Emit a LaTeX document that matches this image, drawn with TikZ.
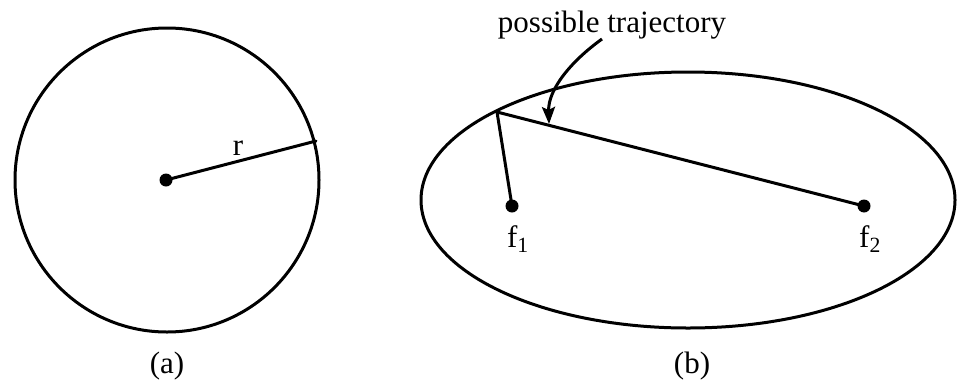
\documentclass[tikz,border=0pt]{standalone}
\usepackage{fontspec}
\setmainfont{Liberation Serif}
\usetikzlibrary{arrows.meta}
\begin{document}
\begin{tikzpicture}[x=1pt,y=-1pt,
  outline/.style={line width=3pt},
  seg/.style={line width=3pt,line cap=round},
  focdot/.style={circle,fill=black,inner sep=0pt,minimum size=13pt},
  lbl/.style={font=\fontsize{31}{36}\selectfont,inner sep=0pt},
  pointer/.style={line width=3pt,-{Stealth[length=17pt,width=13pt,inset=3pt]}}]
\useasboundingbox (0,0) rectangle (957,383);
% (a) circle
\draw[outline] (167,180) circle [radius=152];
\node[focdot] (c) at (166,180) {};
\coordinate (rend) at (316,141);
\draw[seg] (c.center) -- (rend);
\node[lbl,anchor=base] (r) at (238,155) {r};
\node[lbl,anchor=base] (la) at (167,373) {(a)};
% (b) ellipse
\draw[outline] (688,200) ellipse [x radius=267, y radius=128];
\node[focdot] (f1) at (512,206) {};
\node[focdot] (f2) at (864,206) {};
\coordinate (p) at (497,112);
\draw[seg] (f1.center) -- (p) -- (f2.center);
\node[lbl,anchor=base] (f1l) at (518,247) {f\textsubscript{1}};
\node[lbl,anchor=base] (f2l) at (870,247) {f\textsubscript{2}};
\node[lbl,anchor=base] (pt) at (612,32) {possible trajectory};
\coordinate (as) at (602,39);
\coordinate (at) at (549,124);
\draw[pointer] (as) .. controls (570,62) and (548,90) .. (at);
\node[lbl,anchor=base] (lb) at (692,373) {(b)};
\end{tikzpicture}
\end{document}
